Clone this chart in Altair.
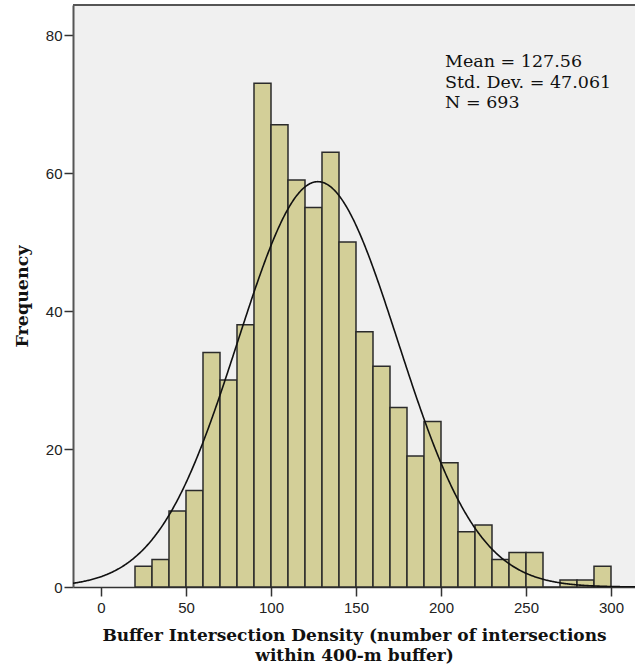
import altair as alt
import pandas as pd

# Histogram counts, bins of width 10 from 20 to 300
bin_starts = list(range(20, 300, 10))
counts = [3, 4, 11, 14, 34, 30, 38, 73, 67, 59, 55, 63, 50, 37,
          32, 26, 19, 24, 18, 8, 9, 4, 5, 5, 0, 1, 1, 3]
BIN_WIDTH = 10

# Summary statistics
MEAN = 127.56
SD = 47.061
N = 693

x_ticks = [0, 50, 100, 150, 200, 250, 300]
y_ticks = [0, 20, 40, 60, 80]
X_DOMAIN = [-16.47, 314.12]
Y_DOMAIN = [0, 84.35]

bars_df = pd.DataFrame({
    "start": bin_starts,
    "end": [b + BIN_WIDTH for b in bin_starts],
    "count": counts,
})

TICK_FONT = "Liberation Sans"
SERIF = "DejaVu Serif"

x_scale = alt.Scale(domain=X_DOMAIN, nice=False, zero=False)
y_scale = alt.Scale(domain=Y_DOMAIN, nice=False)

x_axis = alt.Axis(
    values=x_ticks, grid=False, tickSize=9, tickWidth=1.5, tickColor="#333",
    domainColor="#333", domainWidth=1.5, labelFont=TICK_FONT, labelFontSize=15,
    labelColor="#222", labelPadding=4,
    title=["Buffer Intersection Density (number of intersections",
           "within 400-m buffer)"],
    titleFont=SERIF, titleFontSize=17, titleFontWeight="bold", titleColor="#111",
    titlePadding=12, titleLineHeight=20,
)
y_axis = alt.Axis(
    values=y_ticks, grid=False, tickSize=9, tickWidth=1.5, tickColor="#333",
    domainColor="#555", domainWidth=2, labelFont=TICK_FONT, labelFontSize=15,
    labelColor="#222", labelPadding=2,
    title="Frequency", titleFont=SERIF, titleFontSize=17.5,
    titleFontWeight="bold", titleColor="#111", titlePadding=14,
)

bars = alt.Chart(bars_df).mark_rect(
    fill="#D3CF98", stroke="#2b2b2b", strokeWidth=1.5
).encode(
    x=alt.X("start:Q", scale=x_scale, axis=x_axis),
    x2="end:Q",
    y=alt.Y("count:Q", scale=y_scale, axis=y_axis),
    y2=alt.datum(0),
)

# Fitted normal curve scaled to counts per bin
curve = alt.Chart(alt.sequence(X_DOMAIN[0], X_DOMAIN[1] + 0.5, 0.5, as_="x")).transform_calculate(
    y=f"{N * BIN_WIDTH} * exp(-0.5 * pow((datum.x - {MEAN}) / {SD}, 2)) / ({SD} * sqrt(2 * PI))"
).mark_line(color="#111", strokeWidth=1.6, clip=True).encode(
    x=alt.X("x:Q", scale=x_scale),
    y=alt.Y("y:Q", scale=y_scale),
)

# Top frame line
frame_top = alt.Chart(pd.DataFrame({"y": [Y_DOMAIN[1]]})).mark_rule(
    color="#555", strokeWidth=2
).encode(y=alt.Y("y:Q", scale=y_scale))

stats_df = pd.DataFrame({
    "x": [202.4],
    "y": [75.4],
    "label": [f"Mean = {MEAN}\nStd. Dev. = {SD}\nN = {N}"],
})
stats = alt.Chart(stats_df).mark_text(
    align="left", baseline="alphabetic", font=SERIF, fontSize=17.5,
    lineHeight=20.8, color="#111", lineBreak="\n",
).encode(
    x=alt.X("x:Q", scale=x_scale),
    y=alt.Y("y:Q", scale=y_scale),
    text="label:N",
)

chart = alt.layer(bars, curve, frame_top, stats).properties(
    width=562, height=582,
    autosize=alt.AutoSizeParams(type="none"),
    padding={"left": 73, "top": 5, "right": 0, "bottom": 83},
    background="white",
).configure_view(fill="#F0F0F0", stroke=None)

chart.save("out.html", embed_options={"renderer": "svg", "actions": False})
